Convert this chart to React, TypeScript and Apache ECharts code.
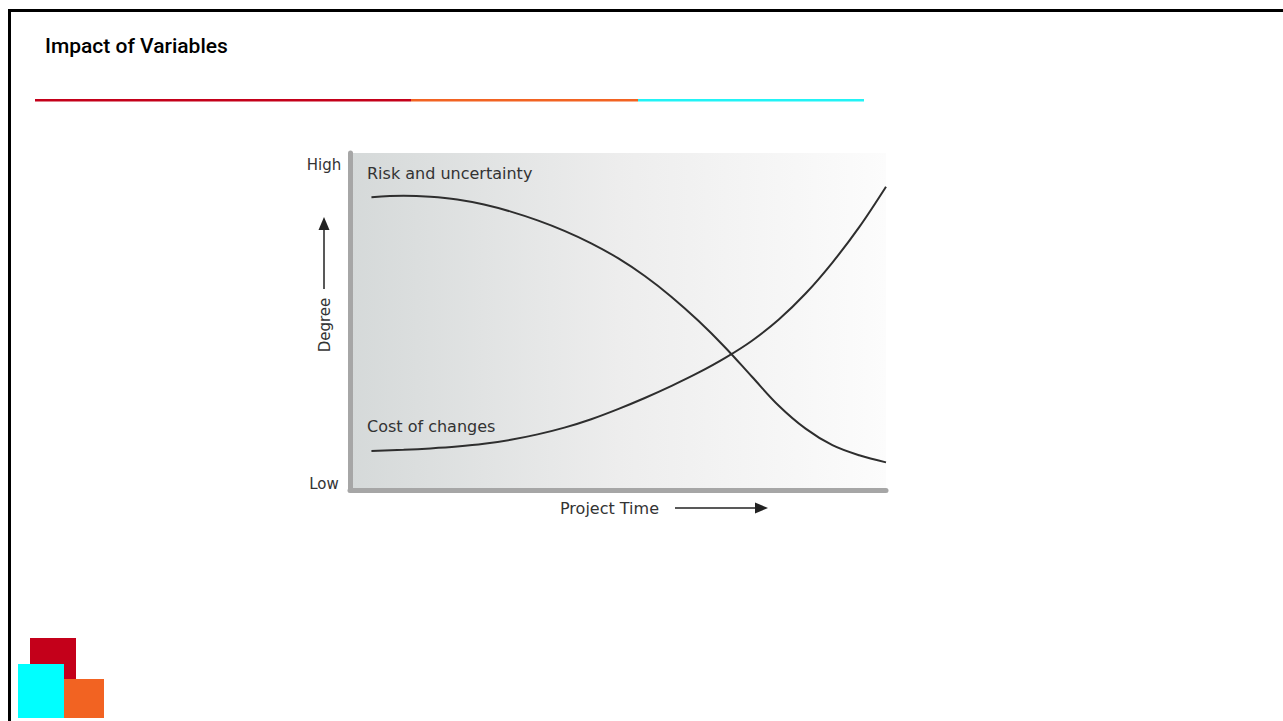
import React, { useEffect, useRef } from "react";
import * as echarts from "echarts";

// Project time (0 = start, 100 = end) and degree (0 = Low, 100 = High)
const timePoints = [4, 10, 15, 20, 25, 30, 35, 40, 45, 50, 55, 60, 65, 70, 75, 80, 85, 90, 95, 100];
const riskDegree = [86.9, 87.3, 87.0, 86.2, 84.7, 82.6, 80.0, 76.9, 73.2, 68.8, 63.5, 57.3, 50.2, 42.3, 33.6, 25.0, 18.2, 13.3, 10.3, 8.2];
const costDegree = [11.6, 11.95, 12.35, 12.9, 13.7, 14.9, 16.5, 18.5, 21.0, 24.0, 27.3, 30.9, 34.8, 39.2, 44.3, 50.6, 58.3, 67.5, 78.0, 90.0];

const seriesNames = ["Risk and uncertainty", "Cost of changes"];
const axisTexts = { high: "High", low: "Low", yName: "Degree", xName: "Project Time" };
const titleText = "Impact of Variables";

export default function App() {
  const ref = useRef<HTMLDivElement>(null);
  useEffect(() => {
    if (!ref.current) return;
    const chart = echarts.init(ref.current, undefined, { renderer: "svg" });
    const font = "DejaVu Sans";
    const txt = "#333333";
    const riskData = timePoints.map((t, i) => [t, riskDegree[i]]);
    const costData = timePoints.map((t, i) => [t, costDegree[i]]);
    chart.setOption({
      animation: false,
      backgroundColor: "#ffffff",
      grid: {
        left: 350,
        top: 153,
        width: 536,
        height: 337,
        show: true,
        borderWidth: 0,
        backgroundColor: new echarts.graphic.LinearGradient(0, 0, 1, 0, [
          { offset: 0, color: "#d5d9d9" },
          { offset: 0.5, color: "#ededed" },
          { offset: 1, color: "#fcfcfc" },
        ]),
      },
      xAxis: {
        type: "value",
        min: 0,
        max: 100,
        axisLabel: { show: false },
        axisTick: { show: false },
        splitLine: { show: false },
        axisLine: { show: true, lineStyle: { color: "#a6a6a6", width: 5 } },
      },
      yAxis: {
        type: "value",
        min: 0,
        max: 100,
        axisLabel: { show: false },
        axisTick: { show: false },
        splitLine: { show: false },
        axisLine: { show: true, lineStyle: { color: "#a6a6a6", width: 5 } },
      },
      series: [
        {
          name: seriesNames[0],
          type: "line",
          data: riskData,
          smooth: 0.35,
          showSymbol: false,
          lineStyle: { color: "#2e2e2e", width: 2 },
        },
        {
          name: seriesNames[1],
          type: "line",
          data: costData,
          smooth: 0.35,
          showSymbol: false,
          lineStyle: { color: "#2e2e2e", width: 2 },
        },
      ],
      graphic: [
        // frame
        { type: "rect", shape: { x: 8, y: 9, width: 1275, height: 3 }, style: { fill: "#000" } },
        { type: "rect", shape: { x: 8, y: 9, width: 3, height: 712 }, style: { fill: "#000" } },
        // title
        {
          type: "text",
          x: 45,
          y: 46,
          style: { text: titleText, fontFamily: "Roboto", fontWeight: 500, fontSize: 21, fill: "#000", verticalAlign: "middle", align: "left" },
        },
        // coloured rule
        { type: "rect", shape: { x: 35, y: 99, width: 376, height: 2.5 }, style: { fill: "#c4001a" } },
        { type: "rect", shape: { x: 411, y: 99, width: 227, height: 2.5 }, style: { fill: "#f26322" } },
        { type: "rect", shape: { x: 638, y: 99, width: 226, height: 2.5 }, style: { fill: "#22f3f6" } },
        // chart texts
        { type: "text", x: 324, y: 165, style: { text: axisTexts.high, fontFamily: font, fontSize: 15, fill: txt, align: "center", verticalAlign: "middle" } },
        { type: "text", x: 324, y: 484, style: { text: axisTexts.low, fontFamily: font, fontSize: 15, fill: txt, align: "center", verticalAlign: "middle" } },
        { type: "text", x: 325, y: 325, rotation: Math.PI / 2, style: { text: axisTexts.yName, fontFamily: font, fontSize: 15, fill: txt, align: "center", verticalAlign: "middle" } },
        { type: "text", x: 367, y: 173.5, style: { text: seriesNames[0], fontFamily: font, fontSize: 16, fill: txt, align: "left", verticalAlign: "middle" } },
        { type: "text", x: 367, y: 426, style: { text: seriesNames[1], fontFamily: font, fontSize: 16, fill: txt, align: "left", verticalAlign: "middle" } },
        { type: "text", x: 560, y: 508, style: { text: axisTexts.xName, fontFamily: font, fontSize: 16, fill: txt, align: "left", verticalAlign: "middle" } },
        // arrows
        { type: "line", shape: { x1: 324, y1: 289, x2: 324, y2: 228 }, style: { stroke: "#222", lineWidth: 1.5 } },
        { type: "polygon", shape: { points: [[318.5, 230], [324, 217], [329.5, 230]] }, style: { fill: "#222" } },
        { type: "line", shape: { x1: 675, y1: 508, x2: 757, y2: 508 }, style: { stroke: "#222", lineWidth: 1.5 } },
        { type: "polygon", shape: { points: [[755, 502.5], [768, 508], [755, 513.5]] }, style: { fill: "#222" } },
        // logo
        { type: "rect", shape: { x: 30, y: 638, width: 46, height: 41 }, style: { fill: "#c4001a" } },
        { type: "rect", shape: { x: 18, y: 664, width: 46, height: 54 }, style: { fill: "#00ffff" } },
        { type: "rect", shape: { x: 64, y: 679, width: 40, height: 39 }, style: { fill: "#f26322" } },
      ],
    });
    return () => chart.dispose();
  }, []);
  return <div ref={ref} style={{ position: "absolute", left: 0, top: 0, width: 1283, height: 721 }} />;
}
